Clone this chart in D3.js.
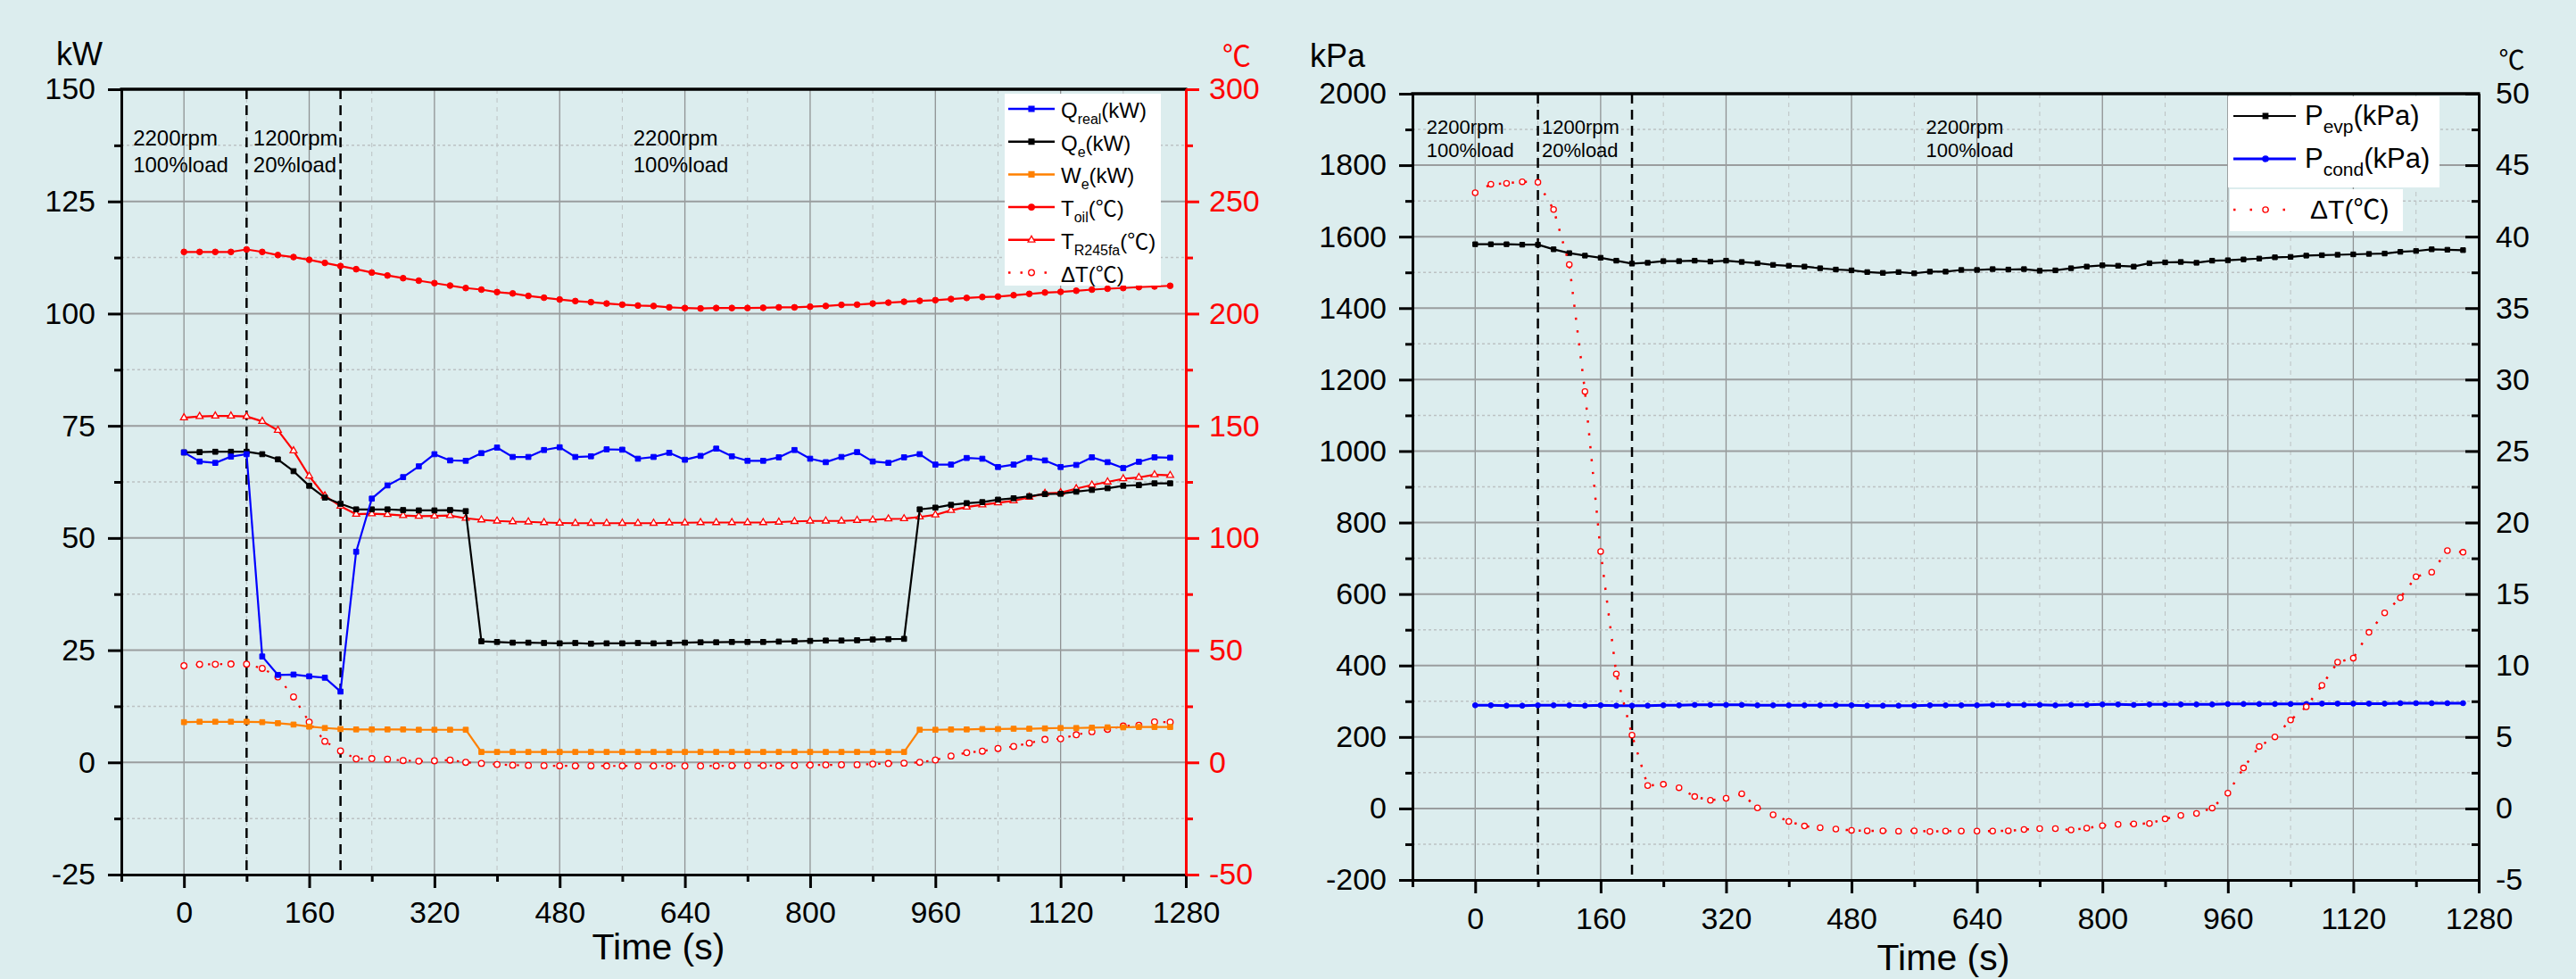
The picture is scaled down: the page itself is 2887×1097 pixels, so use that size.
<!DOCTYPE html>
<html><head><meta charset="utf-8">
<script src="https://cdn.jsdelivr.net/npm/d3@7/dist/d3.min.js"></script>
<style>
html,body{margin:0;padding:0;background:#dcedee;}
svg{display:block;}
text{font-family:"Liberation Sans",Arial,sans-serif;}
.deg{font-family:"Noto Sans CJK SC","DejaVu Sans",sans-serif;}
</style></head><body>
<svg id="chart" width="2887" height="1097"></svg>
<script>
// ---------------- data ----------------
const TIME_S = [0,20,40,60,80,100,120,140,160,180,200,220,240,260,280,300,320,340,360,380,400,420,440,460,480,500,520,540,560,580,600,620,640,660,680,700,720,740,760,780,800,820,840,860,880,900,920,940,960,980,1000,1020,1040,1060,1080,1100,1120,1140,1160,1180,1200,1220,1240,1260];

const Q_REAL_KW = [69.07,67.05,66.74,68.14,68.68,23.59,19.49,19.57,19.18,18.87,
  15.78,46.94,58.78,61.72,63.57,65.97,68.68,67.29,67.21,68.91,
  70.15,68.06,68.06,69.61,70.22,68.06,68.21,69.76,69.68,67.67,
  68.06,68.99,67.44,68.29,69.92,68.21,67.21,67.21,67.98,69.61,
  67.67,66.90,68.06,69.14,67.05,66.74,67.98,68.68,66.36,66.36,
  67.83,67.67,65.82,66.36,67.83,67.29,65.82,66.28,67.98,66.90,
  65.58,66.98,67.98,67.90];

const Q_E_KW = [69.07,69.14,69.22,69.22,69.22,68.68,67.52,64.89,61.64,59.01,
  57.62,56.38,56.38,56.38,56.23,56.15,56.15,56.23,55.99,26.99,
  26.84,26.68,26.68,26.61,26.53,26.61,26.45,26.53,26.53,26.61,
  26.53,26.61,26.68,26.76,26.76,26.84,26.84,26.84,26.92,26.99,
  27.07,27.15,27.15,27.22,27.38,27.46,27.53,56.38,56.77,57.39,
  57.77,58.00,58.55,58.86,59.32,59.78,59.86,60.32,60.71,61.10,
  61.64,61.79,62.18,62.18];

const W_E_KW = [8.97,9.05,9.05,9.05,9.05,8.97,8.74,8.43,7.97,7.66,
  7.43,7.35,7.35,7.35,7.35,7.27,7.27,7.27,7.27,2.32,
  2.32,2.32,2.32,2.32,2.32,2.32,2.32,2.32,2.32,2.32,
  2.32,2.32,2.32,2.32,2.32,2.32,2.32,2.32,2.32,2.32,
  2.32,2.32,2.32,2.32,2.32,2.32,2.32,7.27,7.27,7.35,
  7.35,7.43,7.43,7.50,7.50,7.58,7.66,7.66,7.74,7.81,
  7.81,7.89,7.89,7.89];

const T_OIL_C = [227.5,227.5,227.5,227.5,228.6,227.5,226.1,225.2,224.0,222.6,
  221.2,219.8,218.3,217.0,215.8,214.7,213.6,212.5,211.4,210.7,
  209.6,209.0,207.9,207.1,206.3,205.6,205.1,204.5,204.0,203.6,
  203.4,202.8,202.5,202.3,202.5,202.5,202.5,202.6,202.8,202.8,
  203.1,203.4,203.9,204.0,204.5,204.9,205.3,205.7,206.0,206.5,
  207.0,207.4,207.6,208.2,208.8,209.4,209.7,210.2,210.7,211.1,
  211.4,211.8,212.1,212.4];

const T_R245FA_C = [153.6,154.2,154.4,154.4,154.2,152.0,148.0,138.9,127.6,118.8,
  114.2,110.6,110.8,110.5,110.0,109.7,109.8,110.0,108.8,108.1,
  107.6,107.3,107.2,106.9,106.7,106.6,106.6,106.6,106.6,106.6,
  106.6,106.8,106.8,106.9,106.9,106.9,106.9,106.9,107.1,107.4,
  107.6,107.6,107.6,107.9,108.1,108.5,108.6,109.4,110.3,112.3,
  113.8,114.8,115.7,116.6,118.2,119.9,120.2,122.0,123.6,125.0,
  126.4,127.0,128.2,127.9];

const DELTA_T_C = [43.07,43.67,43.73,43.84,43.80,41.90,38.05,29.17,17.98,9.41,
  5.13,1.60,1.69,1.45,0.83,0.57,0.71,1.03,0.04,-0.44,
  -0.91,-1.23,-1.35,-1.44,-1.53,-1.56,-1.56,-1.59,-1.56,-1.61,
  -1.58,-1.58,-1.58,-1.58,-1.56,-1.47,-1.41,-1.41,-1.50,-1.38,
  -1.20,-1.11,-1.08,-1.05,-0.73,-0.49,-0.35,0.03,1.07,2.83,
  4.34,5.01,6.19,7.11,8.61,10.23,10.52,12.32,13.68,14.74,
  16.21,16.53,18.04,17.92];

const P_EVP_KPA = [1578.8,1578.8,1578.8,1577.6,1577.6,1564.6,1554.0,1546.9,1541.0,1532.8,
  1524.5,1526.9,1531.6,1531.6,1532.8,1530.4,1532.8,1529.2,1525.7,1521.0,
  1518.6,1516.3,1511.6,1508.0,1505.7,1500.9,1498.6,1500.9,1497.4,1502.1,
  1502.1,1506.8,1506.8,1509.2,1508.0,1509.2,1504.5,1505.7,1511.6,1516.3,
  1519.8,1518.6,1516.3,1525.7,1528.1,1529.2,1526.9,1532.8,1534.0,1536.3,
  1538.7,1542.2,1543.4,1546.9,1548.1,1549.3,1550.5,1551.7,1552.8,1557.5,
  1559.9,1564.6,1563.4,1562.3];

const P_COND_KPA = [288.7,288.7,287.6,287.6,288.7,288.7,288.7,287.6,288.7,287.6,
  287.6,287.6,288.7,288.7,289.9,289.9,289.9,289.9,288.7,288.7,
  288.7,288.7,288.7,288.7,288.7,287.6,287.6,287.6,287.6,288.7,
  288.7,288.7,288.7,289.9,289.9,289.9,289.9,288.7,289.9,289.9,
  291.1,291.1,289.9,291.1,291.1,291.1,291.1,291.1,292.3,292.3,
  292.3,292.3,292.3,292.3,293.4,293.4,293.4,293.4,293.4,294.6,
  294.6,294.6,294.6,294.6];

const X_TICKS = [0,160,320,480,640,800,960,1120,1280];
const X_MINOR = [-80,80,240,400,560,720,880,1040,1200];
const KW_TICKS = [-25,0,25,50,75,100,125,150];
const KW_MINOR = [-12.5,12.5,37.5,62.5,87.5,112.5,137.5];
const C_TICKS_A = [-50,0,50,100,150,200,250,300];
const C_MINOR_A = [-25,25,75,125,175,225,275];
const KPA_TICKS = [-200,0,200,400,600,800,1000,1200,1400,1600,1800,2000];
const KPA_MINOR = [-100,100,300,500,700,900,1100,1300,1500,1700,1900];
const C_TICKS_B = [-5,0,5,10,15,20,25,30,35,40,45,50];
const C_MINOR_B = [-2.5,2.5,7.5,12.5,17.5,22.5,27.5,32.5,37.5,42.5,47.5];
const EVENT_TIMES = [80,200];
const PHASE_LABELS = [["2200rpm","100%load"],["1200rpm","20%load"],["2200rpm","100%load"]];

// ---------------- drawing ----------------
const FONT = '"Liberation Sans",Arial,sans-serif';
const svg = d3.select('#chart');
svg.append('rect').attr('width',2887).attr('height',1097).attr('fill','#dcedee');

function styleAxis(sel, color, fs) {
  sel.attr('font-family', null).attr('font-size', null).attr('fill', null);
  sel.select('.domain').attr('stroke', color).attr('stroke-width', 3);
  sel.selectAll('.tick line').attr('stroke', color).attr('stroke-width', 3);
  sel.selectAll('.tick text').attr('fill', color).attr('font-size', fs || 34).attr('font-family', FONT);
}

function sym(name){ return {square:d3.symbolSquare,circle:d3.symbolCircle,triangle:d3.symbolTriangle}[name]; }

function drawSeries(g, x, y, vals, st) {
  const pts = TIME_S.map((t,i)=>[t, vals[i]]);
  g.append('path').datum(pts)
    .attr('d', d3.line().x(d=>x(d[0])).y(d=>y(d[1])))
    .attr('fill','none').attr('stroke', st.color).attr('stroke-width', st.lw)
    .attr('stroke-dasharray', st.dash || null).attr('stroke-linejoin','round');
  g.append('g').selectAll('path').data(pts).join('path')
    .attr('transform', d=>`translate(${x(d[0])},${y(d[1])})`)
    .attr('d', d3.symbol(sym(st.sym), st.size)())
    .attr('fill', st.fill).attr('stroke', st.color).attr('stroke-width', st.msw || 1);
}

function richText(parent, x, y, size, parts, color, anchor) {
  const txt = parent.append('text').attr('x',x).attr('y',y).attr('font-size',size)
    .attr('fill',color||'#000').attr('text-anchor',anchor||'start');
  let cur = 0;
  parts.forEach(p => {
    const target = p.sub ? Math.round(size*0.28) : 0;
    const ts = txt.append('tspan').text(p.t);
    if (target - cur !== 0) ts.attr('dy', target - cur);
    cur = target;
    if (p.sub) ts.attr('font-size', Math.round(size*0.68));
    if (p.deg) ts.attr('class','deg');
  });
  return txt;
}

function panel(cfg) {
  const g = svg.append('g');
  const x = cfg.x, yA = cfg.yA, yB = cfg.yB;
  const [xl, xr] = x.range();
  const [yb, yt] = yA.range();
  // grid
  const grid = g.append('g');
  grid.selectAll('.vmin').data(X_MINOR.filter(d=>d>x.domain()[0])).join('line')
    .attr('x1',d=>x(d)).attr('x2',d=>x(d)).attr('y1',yt).attr('y2',yb)
    .attr('stroke','#bcc2c3').attr('stroke-width',1).attr('stroke-dasharray','5,5');
  grid.selectAll('.vmaj').data(X_TICKS.filter(d=>d<x.domain()[1])).join('line')
    .attr('x1',d=>x(d)).attr('x2',d=>x(d)).attr('y1',yt).attr('y2',yb)
    .attr('stroke','#8f9293').attr('stroke-width',1.3);
  grid.selectAll('.hmin').data(cfg.yMinor).join('line')
    .attr('x1',xl).attr('x2',xr).attr('y1',d=>yA(d)).attr('y2',d=>yA(d))
    .attr('stroke','#bcc2c3').attr('stroke-width',1.5).attr('stroke-dasharray','3,3');
  grid.selectAll('.hmaj').data(cfg.yTicks.filter(d=>d>yA.domain()[0] && d<yA.domain()[1])).join('line')
    .attr('x1',xl).attr('x2',xr).attr('y1',d=>yA(d)).attr('y2',d=>yA(d))
    .attr('stroke','#9a9d9e').attr('stroke-width',2);
  // event lines
  g.append('g').selectAll('line').data(EVENT_TIMES).join('line')
    .attr('x1',d=>x(d)).attr('x2',d=>x(d)).attr('y1',yt).attr('y2',yb)
    .attr('stroke','#000').attr('stroke-width',2.5).attr('stroke-dasharray','11,7');
  // series
  const sg = g.append('g');
  cfg.series.forEach(s => drawSeries(sg, x, s.axis==='B'?yB:yA, s.vals, s));
  // axes
  g.append('line').attr('x1',xl-1.5).attr('x2',xr+1.5).attr('y1',yt).attr('y2',yt).attr('stroke','#000').attr('stroke-width',3.5);
  g.append('g').attr('transform',`translate(0,${yb})`)
    .call(d3.axisBottom(x).tickValues(X_MINOR).tickSize(8).tickSizeOuter(0).tickFormat(''))
    .call(styleAxis,'#000');
  g.append('g').attr('transform',`translate(0,${yb})`)
    .call(d3.axisBottom(x).tickValues(X_TICKS).tickSize(15).tickPadding(cfg.xPad).tickSizeOuter(0).tickFormat(d=>String(d)))
    .call(styleAxis,'#000');
  g.append('g').attr('transform',`translate(${xl},0)`)
    .call(d3.axisLeft(yA).tickValues(cfg.yMinor).tickSize(8).tickSizeOuter(0).tickFormat(''))
    .call(styleAxis,'#000');
  g.append('g').attr('transform',`translate(${xl},0)`)
    .call(d3.axisLeft(yA).tickValues(cfg.yTicks).tickSize(15).tickPadding(14).tickSizeOuter(0).tickFormat(d=>String(d)))
    .call(styleAxis,'#000');
  const inw = cfg.rightInward ? -1 : 1;
  g.append('g').attr('transform',`translate(${xr},0)`)
    .call(d3.axisRight(yB).tickValues(cfg.bMinor).tickSize(8*inw).tickSizeOuter(0).tickFormat(''))
    .call(styleAxis,cfg.rightColor);
  g.append('g').attr('transform',`translate(${xr},0)`)
    .call(d3.axisRight(yB).tickValues(cfg.bTicks).tickSize(15*inw).tickPadding(cfg.rPad).tickSizeOuter(0).tickFormat(d=>String(d)))
    .call(styleAxis,cfg.rightColor);
  // phase annotations
  cfg.phaseT.forEach((t,i) => {
    PHASE_LABELS[i].forEach((s,j) => {
      g.append('text').attr('x', x(t)).attr('y', cfg.phaseY[j]).attr('font-size', cfg.phaseFs).attr('fill','#000').text(s);
    });
  });
  return g;
}

// ---- left panel ----
const xA = d3.scaleLinear([-80,1280],[136,1329]);
const yKW = d3.scaleLinear([-25,150],[980,100]);
const yCA = d3.scaleLinear([-50,300],[980,100]);
const gA = panel({
  x:xA, yA:yKW, yB:yCA, yTicks:KW_TICKS, yMinor:KW_MINOR, bTicks:C_TICKS_A, bMinor:C_MINOR_A,
  rightColor:'#ff0000', rightInward:false, xPad:15, rPad:11,
  phaseT:[-65,88.5,574], phaseY:[163,193], phaseFs:24,
  series:[
    {vals:DELTA_T_C, axis:'B', color:'#ff0000', lw:2.2, dash:'2.5,11', sym:'circle', size:34, fill:'#ffffff', msw:1.3},
    {vals:T_R245FA_C, axis:'B', color:'#ff0000', lw:2.2, sym:'triangle', size:26, fill:'#ffffff', msw:1.3},
    {vals:T_OIL_C, axis:'B', color:'#ff0000', lw:2.2, sym:'circle', size:34, fill:'#ff0000'},
    {vals:W_E_KW, axis:'A', color:'#ff8000', lw:2.2, sym:'square', size:32, fill:'#ff8000'},
    {vals:Q_E_KW, axis:'A', color:'#000000', lw:2.2, sym:'square', size:32, fill:'#000000'},
    {vals:Q_REAL_KW, axis:'A', color:'#0000ff', lw:2.2, sym:'square', size:32, fill:'#0000ff'}
  ]
});
gA.append('text').attr('x',89).attr('y',73).attr('font-size',36).attr('text-anchor','middle').text('kW');
gA.append('text').attr('x',1386).attr('y',74).attr('font-size',32).attr('text-anchor','middle').attr('fill','#ff0000').attr('class','deg').text('℃');
gA.append('text').attr('x',738).attr('y',1075).attr('font-size',41).attr('text-anchor','middle').text('Time (s)');

// legend A
const legA = gA.append('g');
legA.append('rect').attr('x',1126).attr('y',105).attr('width',175).attr('height',215).attr('fill','#ffffff');
const legAItems = [
  {parts:[{t:'Q'},{t:'real',sub:1},{t:'(kW)'}], color:'#0000ff', sym:'square', fill:'#0000ff'},
  {parts:[{t:'Q'},{t:'e',sub:1},{t:'(kW)'}], color:'#000000', sym:'square', fill:'#000000'},
  {parts:[{t:'W'},{t:'e',sub:1},{t:'(kW)'}], color:'#ff8000', sym:'square', fill:'#ff8000'},
  {parts:[{t:'T'},{t:'oil',sub:1},{t:'('},{t:'℃',deg:1},{t:')'}], color:'#ff0000', sym:'circle', fill:'#ff0000'},
  {parts:[{t:'T'},{t:'R245fa',sub:1},{t:'('},{t:'℃',deg:1},{t:')'}], color:'#ff0000', sym:'triangle', fill:'#ffffff'},
  {parts:[{t:'ΔT'},{t:'('},{t:'℃',deg:1},{t:')'}], color:'#ff0000', sym:'circle', fill:'#ffffff', dash:'2.5,11'}
];
legAItems.forEach((it,i) => {
  const base = 132 + i*36.7, ly = base - 10;
  legA.append('line').attr('x1',1130).attr('x2',1182).attr('y1',ly).attr('y2',ly)
    .attr('stroke',it.color).attr('stroke-width',2.5).attr('stroke-dasharray',it.dash||null);
  legA.append('path').attr('transform',`translate(1156,${ly})`)
    .attr('d', d3.symbol(sym(it.sym), it.sym==='triangle'?26:34)())
    .attr('fill',it.fill).attr('stroke',it.color).attr('stroke-width',1.3);
  richText(legA, 1189, base, 24, it.parts, '#000');
});

// ---- right panel ----
const xB = d3.scaleLinear([-80,1280],[1583,2778]);
const yKPA = d3.scaleLinear([-200,2000],[986,105]);
const yCB = d3.scaleLinear([-5,50],[986,105]);
const gB = panel({
  x:xB, yA:yKPA, yB:yCB, yTicks:KPA_TICKS, yMinor:KPA_MINOR, bTicks:C_TICKS_B, bMinor:C_MINOR_B,
  rightColor:'#000000', rightInward:true, xPad:16, rPad:19,
  phaseT:[-62,85,575], phaseY:[150,176], phaseFs:22,
  series:[
    {vals:P_EVP_KPA, axis:'A', color:'#000000', lw:2.2, sym:'square', size:28, fill:'#000000'},
    {vals:P_COND_KPA, axis:'A', color:'#0000ff', lw:3, sym:'circle', size:26, fill:'#0000ff'},
    {vals:DELTA_T_C, axis:'B', color:'#ff0000', lw:2.5, dash:'2.5,12', sym:'circle', size:30, fill:'#ffffff', msw:1.3}
  ]
});
gB.append('text').attr('x',1468).attr('y',75).attr('font-size',36).text('kPa');
gB.append('text').attr('x',2815).attr('y',78).attr('font-size',29).attr('text-anchor','middle').attr('class','deg').text('℃');
gB.append('text').attr('x',2178).attr('y',1087).attr('font-size',41).attr('text-anchor','middle').text('Time (s)');

// legend B
const legB = gB.append('g');
legB.append('rect').attr('x',2497).attr('y',108).attr('width',237).attr('height',102).attr('fill','#ffffff');
legB.append('rect').attr('x',2499).attr('y',212).attr('width',194).attr('height',47).attr('fill','#ffffff');
const legBItems = [
  {parts:[{t:'P'},{t:'evp',sub:1},{t:'(kPa)'}], color:'#000000', sym:'square', fill:'#000000', y:130, tx:2583, lw:2.2},
  {parts:[{t:'P'},{t:'cond',sub:1},{t:'(kPa)'}], color:'#0000ff', sym:'circle', fill:'#0000ff', y:178, tx:2583, lw:3},
  {parts:[{t:'ΔT'},{t:'('},{t:'℃',deg:1},{t:')'}], color:'#ff0000', sym:'circle', fill:'#ffffff', y:235, tx:2589, lw:2.5, dash:'2.5,16'}
];
legBItems.forEach(it => {
  legB.append('line').attr('x1',2503).attr('x2',2573).attr('y1',it.y).attr('y2',it.y)
    .attr('stroke',it.color).attr('stroke-width',it.lw).attr('stroke-dasharray',it.dash||null);
  legB.append('path').attr('transform',`translate(2539,${it.y})`)
    .attr('d', d3.symbol(sym(it.sym), 30)())
    .attr('fill',it.fill).attr('stroke',it.color).attr('stroke-width',1.3);
  richText(legB, it.tx, it.y + 10, it.tx===2589 ? 30 : 31, it.parts, '#000');
});
</script>
</body></html>
